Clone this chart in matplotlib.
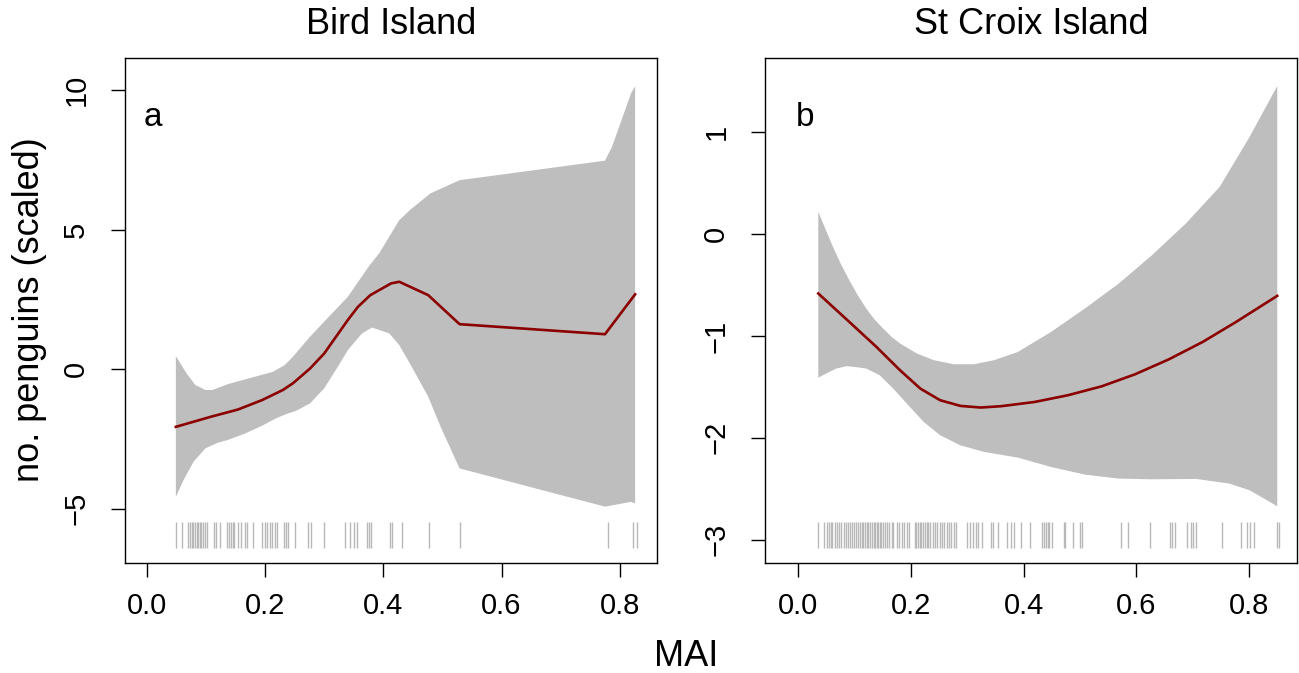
import numpy as np
from matplotlib import pyplot as plt
from matplotlib import transforms

plt.rcParams['font.family'] = ['Liberation Sans', 'DejaVu Sans']

# Bird Island: fitted smooth and confidence band
bird_fit_x = [0.049, 0.108, 0.154, 0.195, 0.230, 0.247, 0.276, 0.300, 0.340, 0.357,
              0.378, 0.413, 0.427, 0.476, 0.529, 0.775, 0.826]
bird_fit_y = [-2.07, -1.71, -1.45, -1.11, -0.75, -0.51, 0.02, 0.56, 1.76, 2.23,
              2.65, 3.07, 3.13, 2.65, 1.61, 1.25, 2.68]
bird_up_x = [0.049, 0.067, 0.082, 0.099, 0.111, 0.137, 0.166, 0.213, 0.233, 0.247, 0.276,
             0.300, 0.340, 0.375, 0.393, 0.427, 0.445, 0.480, 0.529, 0.775, 0.787, 0.819, 0.826]
bird_up_y = [0.47, -0.15, -0.57, -0.75, -0.75, -0.54, -0.37, -0.10, 0.14, 0.44, 1.16,
             1.70, 2.59, 3.67, 4.15, 5.34, 5.70, 6.30, 6.77, 7.47, 7.97, 9.88, 10.14]
bird_lo_x = [0.049, 0.062, 0.079, 0.099, 0.120, 0.137, 0.166, 0.195, 0.218, 0.236, 0.253,
             0.276, 0.300, 0.323, 0.340, 0.364, 0.381, 0.410, 0.427, 0.445, 0.476, 0.497,
             0.529, 0.775, 0.819, 0.826]
bird_lo_y = [-4.58, -3.98, -3.32, -2.84, -2.64, -2.54, -2.31, -2.03, -1.77, -1.61, -1.49,
             -1.23, -0.69, 0.08, 0.68, 1.28, 1.49, 1.28, 0.86, 0.20, -0.99, -2.07,
             -3.56, -4.93, -4.76, -4.81]
bird_rug = [0.050, 0.059, 0.070, 0.073, 0.076, 0.078, 0.081, 0.084, 0.087, 0.090, 0.092,
            0.095, 0.098, 0.101, 0.113, 0.117, 0.123, 0.136, 0.139, 0.142, 0.145, 0.147,
            0.154, 0.160, 0.166, 0.170, 0.179, 0.194, 0.199, 0.203, 0.208, 0.212, 0.216,
            0.220, 0.232, 0.235, 0.239, 0.250, 0.272, 0.278, 0.300, 0.336, 0.344, 0.350,
            0.355, 0.372, 0.376, 0.380, 0.411, 0.415, 0.431, 0.478, 0.529, 0.780, 0.822, 0.829]

# St Croix Island
croix_fit_x = [0.036, 0.091, 0.139, 0.181, 0.217, 0.252, 0.288, 0.324, 0.360, 0.420,
               0.479, 0.539, 0.598, 0.658, 0.718, 0.777, 0.850]
croix_fit_y = [-0.583, -0.862, -1.107, -1.337, -1.517, -1.631, -1.687, -1.703, -1.690,
               -1.648, -1.582, -1.494, -1.376, -1.229, -1.058, -0.862, -0.606]
croix_up_x = [0.036, 0.047, 0.062, 0.077, 0.091, 0.106, 0.121, 0.136, 0.151, 0.166, 0.181,
              0.211, 0.241, 0.276, 0.312, 0.348, 0.390, 0.449, 0.509, 0.569, 0.628, 0.688,
              0.748, 0.801, 0.850]
croix_up_y = [0.219, 0.072, -0.125, -0.305, -0.452, -0.600, -0.730, -0.839, -0.927, -1.009,
              -1.074, -1.173, -1.238, -1.278, -1.278, -1.238, -1.157, -0.960, -0.730, -0.485,
              -0.206, 0.105, 0.465, 0.956, 1.455]
croix_lo_x = [0.036, 0.050, 0.068, 0.086, 0.100, 0.121, 0.145, 0.169, 0.193, 0.223, 0.252,
              0.288, 0.330, 0.390, 0.449, 0.509, 0.569, 0.628, 0.706, 0.765, 0.801, 0.825, 0.850]
croix_lo_y = [-1.409, -1.369, -1.320, -1.297, -1.304, -1.320, -1.386, -1.517, -1.664, -1.845,
              -1.975, -2.074, -2.139, -2.195, -2.287, -2.362, -2.401, -2.408, -2.404, -2.450,
              -2.516, -2.592, -2.673]
croix_rug = [0.036, 0.047, 0.051, 0.055, 0.058, 0.061, 0.066, 0.069, 0.073, 0.077, 0.082,
             0.086, 0.089, 0.092, 0.095, 0.100, 0.103, 0.107, 0.110, 0.113, 0.116, 0.119,
             0.122, 0.125, 0.128, 0.131, 0.134, 0.137, 0.140, 0.142, 0.145, 0.148, 0.151,
             0.154, 0.158, 0.162, 0.166, 0.169, 0.175, 0.179, 0.184, 0.188, 0.193, 0.197,
             0.207, 0.210, 0.213, 0.216, 0.219, 0.222, 0.225, 0.228, 0.231, 0.234, 0.240,
             0.243, 0.247, 0.251, 0.255, 0.259, 0.264, 0.268, 0.272, 0.277, 0.281, 0.299,
             0.305, 0.310, 0.315, 0.320, 0.326, 0.342, 0.346, 0.355, 0.371, 0.377, 0.383,
             0.395, 0.411, 0.432, 0.436, 0.440, 0.443, 0.446, 0.450, 0.471, 0.473, 0.488,
             0.500, 0.503, 0.573, 0.586, 0.624, 0.660, 0.663, 0.669, 0.690, 0.697, 0.701,
             0.706, 0.752, 0.785, 0.797, 0.802, 0.808, 0.849, 0.853]

titles = ["Bird Island", "St Croix Island"]
letters = ["a", "b"]

fig = plt.figure(figsize=(12.99, 6.73), dpi=100)
ax1 = fig.add_axes([125 / 1299, 110 / 673, 532 / 1299, 505 / 673])
ax2 = fig.add_axes([765 / 1299, 110 / 673, 532 / 1299, 505 / 673])

panels = [
    (ax1, bird_fit_x, bird_fit_y, bird_up_x, bird_up_y, bird_lo_x, bird_lo_y, bird_rug,
     (-0.037, 0.863), (-6.95, 11.15), [-5, 0, 5, 10]),
    (ax2, croix_fit_x, croix_fit_y, croix_up_x, croix_up_y, croix_lo_x, croix_lo_y, croix_rug,
     (-0.0585, 0.885), (-3.23, 1.73), [-3, -2, -1, 0, 1]),
]

for i, (ax, fx, fy, ux, uy, lx, ly, rug, xl, yl, yt) in enumerate(panels):
    # band as polygon: upper edge then lower edge back
    px = np.concatenate([ux, lx[::-1]])
    py = np.concatenate([uy, ly[::-1]])
    ax.fill(px, py, color="#bebebe", lw=0)
    ax.plot(fx, fy, color="#8b0000", lw=1.9)
    # rug
    trans = transforms.blended_transform_factory(ax.transData, ax.transAxes)
    ax.vlines(rug, 0.030, 0.081, transform=trans, color="#b8b8b8", lw=1.0)

    ax.set_xlim(*xl)
    ax.set_ylim(*yl)
    ax.set_xticks([0.0, 0.2, 0.4, 0.6, 0.8])
    ax.set_xticklabels(["0.0", "0.2", "0.4", "0.6", "0.8"])
    ax.set_yticks(yt)
    ax.set_yticklabels([str(v).replace("-", "\u2212") for v in yt], rotation=90, va="center")
    ax.tick_params(direction="out", length=10, width=1.0, labelsize=21)
    ax.tick_params(axis="x", pad=11)
    ax.tick_params(axis="y", pad=15)
    for s in ax.spines.values():
        s.set_linewidth(1.0)
    ax.text(0.5, 1.066, titles[i], transform=ax.transAxes, ha="center", va="center", fontsize=26)
    ax.text(0.053 if i == 0 else 0.075, 0.883, letters[i], transform=ax.transAxes,
            ha="center", va="center", fontsize=24)

fig.text(686 / 1299, 1 - 656 / 673, "MAI", ha="center", va="center", fontsize=26)
fig.text(30 / 1299, 1 - 310 / 673, "no. penguins (scaled)", ha="center", va="center",
         rotation=90, fontsize=26)

fig.savefig("out.png", dpi=100)
